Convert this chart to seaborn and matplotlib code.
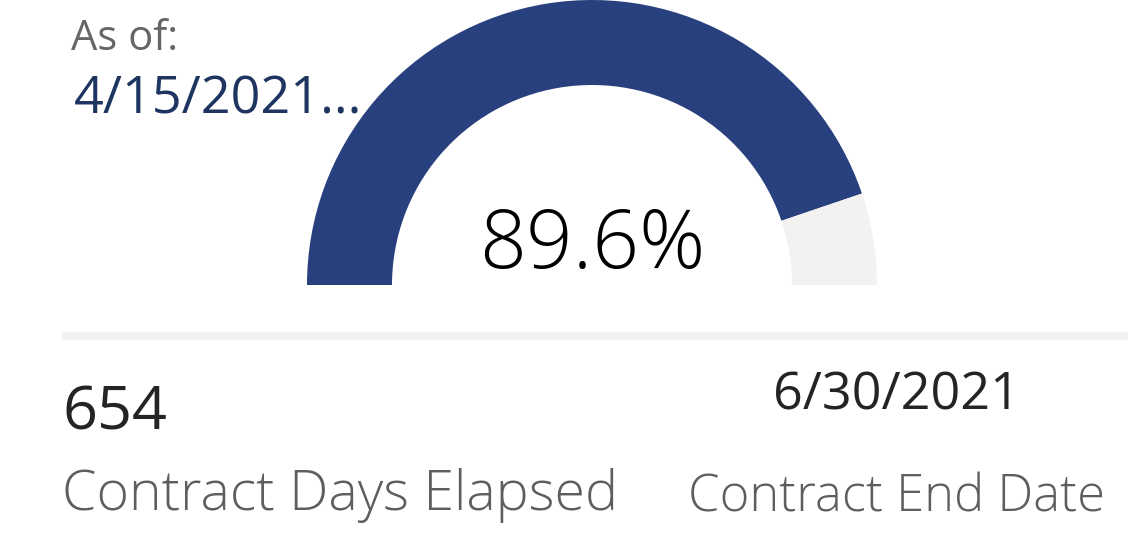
import matplotlib
matplotlib.use("Agg")
import matplotlib.pyplot as plt
import seaborn as sns

# gauge data
parts = ["Elapsed", "Remaining"]
part_values = [89.6, 10.4]
pct_label = "89.6%"

as_of_title = "As of:"
as_of_value = "4/15/2021..."
days_value = "654"
days_label = "Contract Days Elapsed"
end_value = "6/30/2021"
end_label = "Contract End Date"

W, H = 1128, 539

sns.set_theme(style="white")
plt.rcParams["font.family"] = ["Open Sans", "DejaVu Sans"]

fig = plt.figure(figsize=(W / 100, H / 100), dpi=100)
ax = fig.add_axes([0, 0, 1, 1])

# half donut: the hidden third slice takes the bottom half
vals = part_values + [sum(part_values)]
cols = ["#28407E", "#F3F2F1", "none"]
ax.pie(vals, colors=cols, startangle=180, counterclock=False,
       center=(592, H - 285), radius=285,
       wedgeprops=dict(width=85, linewidth=0, edgecolor="none"))

ax.set_xlim(0, W)
ax.set_ylim(0, H)
ax.set_aspect("auto")
ax.axis("off")

# separator
ax.plot([62, W], [H - 336, H - 336], color="#F3F2F1", lw=5.8, solid_capstyle="butt")

ax.text(592, H - 268, pct_label, ha="center", va="baseline",
        fontsize=59, fontweight="light", color="#000000")

ax.text(71, H - 50, as_of_title, ha="left", va="baseline", fontsize=30, color="#666666")
ax.text(74, H - 113, as_of_value, ha="left", va="baseline", fontsize=37.5, color="#1E3461")

ax.text(62, H - 430, days_value, ha="left", va="baseline", fontsize=44, color="#252423")
ax.text(62, H - 510, days_label, ha="left", va="baseline", fontsize=40,
        fontweight="light", color="#605E5C")

ax.text(897, H - 410, end_value, ha="center", va="baseline", fontsize=37.5, color="#252423")
ax.text(897, H - 512, end_label, ha="center", va="baseline", fontsize=36.5,
        fontweight="light", color="#605E5C")

fig.savefig("out.png", dpi=100)
